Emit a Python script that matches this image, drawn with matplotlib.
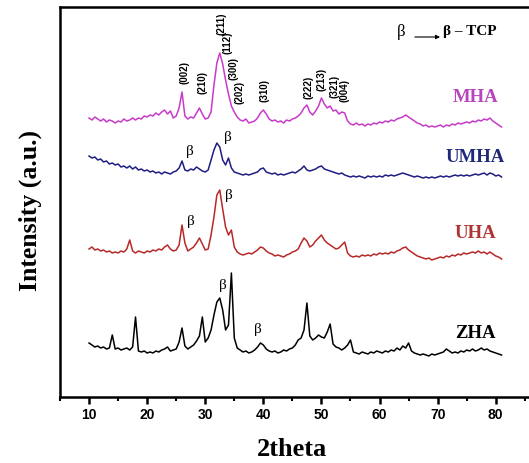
import numpy as np
import matplotlib
matplotlib.use("Agg")
import matplotlib.pyplot as plt

# 2theta scan, 0.5 deg step
two_theta = np.arange(10.0, 81.01, 0.5)

# intensities (a.u.), each relative to its own baseline
mha = [12, 10, 13, 11, 9, 11, 8, 10, 9, 7,
       9, 8, 11, 9, 10, 12, 10, 12, 11, 14,
       13, 15, 14, 17, 15, 18, 20, 16, 19, 12,
       14, 22, 38, 14, 11, 13, 12, 17, 22, 16,
       11, 12, 18, 45, 67, 77, 66, 50, 36, 24,
       18, 13, 10, 9, 11, 7, 8, 9, 12, 17,
       20, 16, 11, 9, 10, 8, 9, 7, 10, 9,
       11, 12, 14, 17, 22, 25, 18, 15, 19, 24,
       32, 26, 22, 24, 19, 20, 16, 18, 17, 9,
       6, 5, 7, 5, 6, 4, 6, 5, 7, 6,
       8, 7, 9, 8, 10, 9, 11, 12, 13, 15,
       13, 11, 9, 7, 6, 4, 5, 3, 4, 3,
       4, 5, 3, 5, 4, 6, 5, 7, 6, 7,
       8, 7, 9, 8, 10, 9, 11, 10, 12, 9,
       7, 5, 3]
umha = [26, 24, 25, 22, 23, 20, 21, 18, 19, 17,
        18, 15, 16, 14, 16, 13, 15, 12, 13, 11,
        12, 10, 11, 9, 10, 8, 10, 9, 8, 10,
        11, 14, 21, 12, 11, 13, 12, 15, 13, 11,
        10, 12, 22, 32, 39, 35, 22, 17, 24, 14,
        10, 9, 8, 7, 8, 7, 8, 9, 10, 13,
        14, 10, 9, 8, 9, 7, 8, 7, 8, 9,
        10, 9, 11, 13, 16, 12, 11, 12, 13, 15,
        16, 13, 12, 11, 10, 9, 8, 9, 7, 6,
        5, 6, 5, 6, 5, 4, 6, 5, 6, 5,
        6, 5, 7, 6, 7, 6, 7, 8, 9, 8,
        7, 6, 5, 6, 5, 4, 5, 4, 5, 4,
        5, 6, 5, 6, 5, 6, 7, 6, 7, 6,
        7, 6, 7, 8, 7, 8, 9, 7, 9, 8,
        6, 7, 5]
uha = [16, 18, 15, 16, 14, 15, 13, 14, 12, 13,
       12, 14, 13, 16, 25, 14, 12, 14, 13, 12,
       14, 13, 15, 14, 16, 15, 18, 20, 16, 14,
       15, 20, 40, 22, 14, 16, 18, 22, 27, 21,
       15, 16, 30, 48, 70, 75, 56, 38, 30, 35,
       18, 13, 11, 10, 11, 12, 11, 13, 15, 18,
       17, 14, 12, 11, 9, 10, 9, 8, 10, 11,
       13, 14, 16, 22, 27, 24, 18, 20, 24, 27,
       30, 25, 22, 20, 18, 16, 17, 20, 23, 12,
       9, 8, 9, 8, 10, 9, 10, 9, 11, 10,
       12, 11, 12, 11, 13, 12, 14, 15, 17, 18,
       15, 13, 11, 9, 8, 7, 6, 7, 5, 6,
       7, 8, 7, 9, 8, 10, 9, 11, 10, 12,
       11, 12, 13, 12, 14, 12, 13, 11, 13, 11,
       9, 8, 6]
zha = [17, 15, 13, 14, 12, 13, 11, 12, 25, 11,
       12, 10, 11, 12, 10, 13, 43, 9, 8, 9,
       7, 8, 7, 9, 8, 10, 11, 13, 9, 10,
       11, 18, 32, 14, 11, 13, 15, 19, 24, 43,
       18, 22, 30, 45, 58, 62, 50, 30, 35, 87,
       22, 12, 10, 8, 9, 7, 8, 10, 13, 17,
       15, 11, 9, 8, 9, 7, 8, 10, 9, 11,
       12, 15, 20, 22, 30, 57, 24, 20, 22, 25,
       23, 22, 28, 36, 16, 13, 12, 10, 12, 15,
       20, 8, 7, 6, 8, 7, 6, 8, 7, 9,
       8, 7, 9, 8, 10, 9, 12, 10, 14, 12,
       17, 9, 7, 6, 5, 6, 5, 4, 6, 5,
       6, 7, 8, 11, 9, 7, 8, 7, 9, 8,
       10, 9, 11, 9, 10, 12, 10, 11, 9, 8,
       7, 6, 5]

names = ["ZHA", "UHA", "UMHA", "MHA"]
patterns = [zha, uha, umha, mha]
offsets = [40, 135, 218, 270]
line_colors = ["black", "#B82828", "#1E1E82", "#C83AC8"]
text_colors = ["black", "#B03434", "#1E2A78", "#B845BE"]

hkl = ["(002)", "(210)", "(211)", "(112)", "(300)", "(202)", "(310)",
       "(222)", "(213)", "(321)", "(004)"]
hkl_pos = [(26.5, 328), (29.6, 317), (32.8, 376), (33.9, 357), (34.8, 332),
           (35.9, 308), (40.2, 309), (47.7, 313), (50.0, 321), (52.3, 314),
           (54.0, 309)]
beta_pos = [(27.3, 248), (33.9, 262), (27.5, 178), (34.1, 205),
            (33.1, 115), (39.1, 70)]

fig = plt.figure(figsize=(5.29, 4.63), dpi=100)
ax = fig.add_axes([60 / 529, 66 / 463, 476.4 / 529, 390 / 463])

for y, off, c in zip(patterns, offsets, line_colors):
    ax.plot(two_theta, np.array(y) + off, color=c, lw=1.1)

label_y = [67, 167, 243, 303]
for n, ly, c in zip(names, label_y, text_colors):
    ax.text(76.5, ly, n, color=c, fontsize=13.5, fontweight="bold",
            family="Liberation Serif", ha="center", va="center")

for t, (x, y) in zip(hkl, hkl_pos):
    ax.text(x, y, t, rotation=90, fontsize=7, fontweight="bold",
            family="Liberation Sans", ha="center", va="center")

for x, y in beta_pos:
    ax.text(x, y, "β", fontsize=11, family="Liberation Serif",
            ha="center", va="center")

ax.text(63.8, 368, "β", fontsize=12, family="Liberation Serif",
        ha="center", va="center")
ax.annotate("", xy=(70.9, 363), xytext=(65.6, 363),
            arrowprops=dict(arrowstyle="-|>", lw=0.8, color="black",
                            mutation_scale=6))
ax.text(71.0, 368, "β – TCP", fontsize=11, fontweight="bold",
        family="Liberation Serif", ha="left", va="center")

ax.set_xlim(5, 87)
ax.set_ylim(3, 393)
ax.set_xticks(range(10, 81, 10))
ax.set_xticks(range(5, 87, 10), minor=True)
ax.set_yticks([])
ax.tick_params(axis="x", which="major", direction="out", length=5, width=1.8,
               labelsize=10, pad=3)
ax.tick_params(axis="x", which="minor", direction="out", length=3, width=1.5)
for lab in ax.get_xticklabels():
    lab.set_fontweight("bold")
    lab.set_family("Liberation Sans")
for s in ax.spines.values():
    s.set_linewidth(1.8)

ax.set_xlabel("2theta", fontsize=19, fontweight="bold",
              family="Liberation Serif")
ax.xaxis.set_label_coords(0.487, -0.105)
ax.set_ylabel("Intensity (a.u.)", fontsize=18.5, fontweight="bold",
              family="Liberation Serif")
ax.yaxis.set_label_coords(-0.038, 0.477)

fig.savefig("out.png", dpi=100)
